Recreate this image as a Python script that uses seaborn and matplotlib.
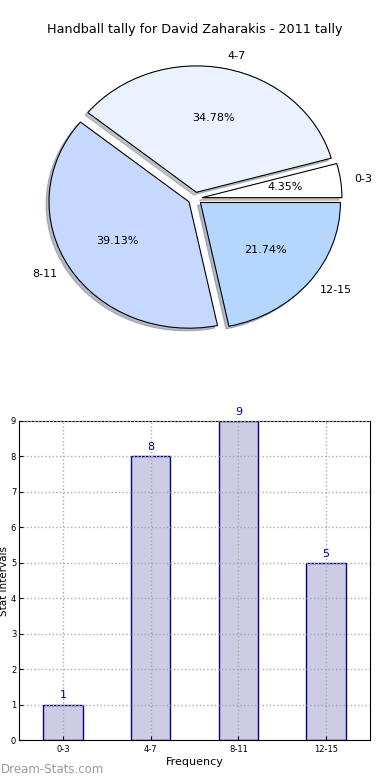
import seaborn as sns
import matplotlib.pyplot as plt
import pandas as pd

# tally data
categories = ['0-3', '4-7', '8-11', '12-15']
counts = [1, 8, 9, 5]
pie_colors = ['#FFFFFF', '#EAF1FF', '#C6D8FF', '#B4D6FF']
explode = [0.05, 0.05, 0.05, 0.05]

df = pd.DataFrame({'interval': categories, 'count': counts})

fig = plt.figure(figsize=(3.9, 7.8), dpi=100)

# pie on top
ax1 = fig.add_axes([20 / 390, (780 - 356.5) / 780, 350 / 390, 316 / 780])
wedges, texts, autotexts = ax1.pie(df['count'], labels=df['interval'], colors=pie_colors,
                                   explode=explode, autopct='%1.2f%%',
                                   shadow={'ox': -0.015, 'oy': -0.015, 'shade': 0.45},
                                   startangle=0,
                                   wedgeprops={'edgecolor': 'black', 'linewidth': 0.8})
for t in texts + autotexts:
    t.set_fontsize(8)
ax1.set_aspect('auto')
ax1.set_xlim(-1.25, 1.25)
ax1.set_ylim(-1.25, 1.25)
fig.text(0.5, 1 - 30 / 780, 'Handball tally for David Zaharakis - 2011 tally',
         ha='center', va='center', fontsize=9.2)

# bar chart below
ax2 = fig.add_axes([19 / 390, 40 / 780, 351 / 390, 319 / 780])
sns.barplot(data=df, x='interval', y='count', ax=ax2, color='#CCCCE5', saturation=1,
            width=0.45, edgecolor='navy', linewidth=1)
ax2.set_ylim(0, 9)
ax2.set_xlim(-0.5, 3.5)
ax2.set_yticks(range(0, 10))
ax2.grid(True, linestyle=':', color='#AAAAAA', linewidth=1)
ax2.set_axisbelow(False)
ax2.tick_params(labelsize=6, direction='in', length=3)
ax2.tick_params(axis='y', pad=2)
ax2.set_xlabel('Frequency', fontsize=8, labelpad=2)
ax2.set_ylabel('Stat intervals', fontsize=7.5)
ax2.yaxis.set_label_coords(-0.029, 0.5)
for i, v in enumerate(counts):
    ax2.text(i, v + 0.12, str(v), ha='center', va='bottom', fontsize=8, color='navy')
for s in ax2.spines.values():
    s.set_color('black')

fig.text(0.002, 0.013, 'Dream-Stats.com', fontsize=8.5, color='#999999',
         ha='left', va='center')

fig.savefig('out.png', dpi=100)
